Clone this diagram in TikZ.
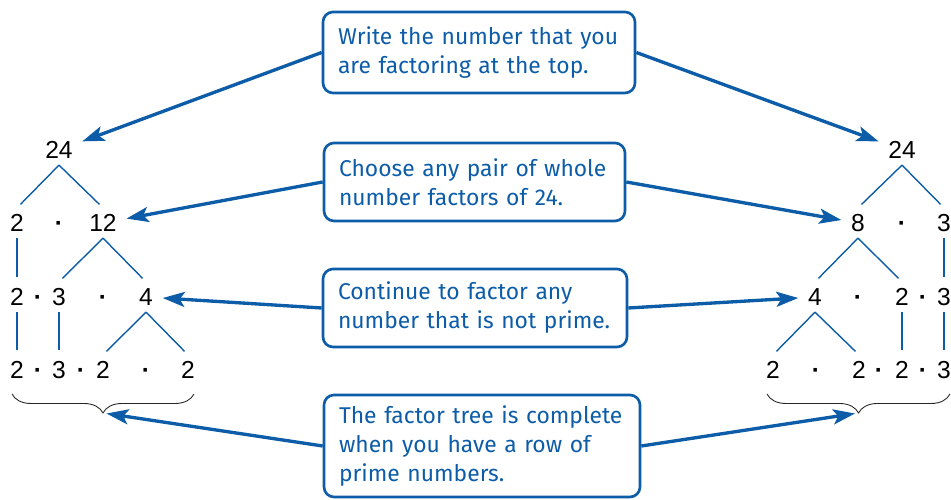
\documentclass[tikz,border=0pt]{standalone}
\usepackage{fontspec}
\newfontfamily\notefont{Fira Sans}
\newfontfamily\numfont{Liberation Sans}
\usetikzlibrary{arrows.meta,decorations.pathreplacing}
\definecolor{bookblue}{RGB}{12,92,168}
\tikzset{
    num/.style={font=\numfont\fontsize{14}{16}\selectfont, text height=10pt, text depth=0pt, inner sep=0.12cm},
    times/.style={num, font=\numfont\bfseries\fontsize{14}{16}\selectfont},
    branch/.style={bookblue, line width=0.8pt, shorten >=0.1cm},
    note/.style={draw=bookblue, line width=1.5pt, rounded corners=0.2cm, text=bookblue,
        font=\notefont\fontsize{13}{16.5}\selectfont, align=left, inner xsep=0.3cm, inner ysep=0.1cm},
    pointer/.style={bookblue, line width=1.9pt, -{Stealth[length=0.44cm,width=0.3cm,inset=0.1cm]}, shorten >=2pt},
    bracket/.style={decorate, decoration={brace, mirror, amplitude=0.38cm}, line width=0.5pt, black!85}
}
\begin{document}
\begin{tikzpicture}
    \useasboundingbox (0,0) rectangle (19.02,10);

    % 説明の枠
    \node[note, text width=5.64cm, minimum height=1.62cm] (note1) at (9.58,8.95)
        {Write the number that you\\ are factoring at the top.};
    \node[note, text width=5.42cm, minimum height=1.56cm] (note2) at (9.49,6.36)
        {Choose any pair of whole\\ number factors of 24.};
    \node[note, text width=5.48cm, minimum height=1.56cm] (note3) at (9.50,3.84)
        {Continue to factor any\\ number that is not prime.};
    \node[note, text width=5.72cm, minimum height=2.04cm] (note4) at (9.64,1.08)
        {The factor tree is complete\\ when you have a row of\\ prime numbers.};

    % 左の木 (24 = 2 · 12)
    \node[num] (la) at (1.18,7.00) {24};
    \node[num] (lb1) at (0.34,5.54) {2};
    \node[times] (lbdot) at (1.18,5.54) {·};
    \node[num] (lb2) at (2.06,5.54) {12};
    \node[num] (lc1) at (0.34,4.06) {2};
    \node[times] (lcdot1) at (0.76,4.06) {·};
    \node[num] (lc2) at (1.18,4.06) {3};
    \node[times] (lcdot2) at (2.06,4.06) {·};
    \node[num] (lc3) at (2.92,4.06) {4};
    \node[num] (ld1) at (0.34,2.60) {2};
    \node[times] (lddot1) at (0.76,2.60) {·};
    \node[num] (ld2) at (1.18,2.60) {3};
    \node[times] (lddot2) at (1.62,2.60) {·};
    \node[num] (ld3) at (2.06,2.60) {2};
    \node[times] (lddot3) at (2.92,2.60) {·};
    \node[num] (ld4) at (3.76,2.60) {2};

    \draw[branch] (la.south) -- (lb1.north);
    \draw[branch] (la.south) -- (lb2.north);
    \draw[branch] (lb1.south) -- (lc1.north);
    \draw[branch] (lb2.south) -- (lc2.north);
    \draw[branch] (lb2.south) -- (lc3.north);
    \draw[branch] (lc1.south) -- (ld1.north);
    \draw[branch] (lc2.south) -- (ld2.north);
    \draw[branch] (lc3.south) -- (ld3.north);
    \draw[branch] (lc3.south) -- (ld4.north);

    % 右の木 (24 = 8 · 3)
    \node[num] (ra) at (18.04,7.00) {24};
    \node[num] (rb1) at (17.16,5.54) {8};
    \node[times] (rbdot) at (18.04,5.54) {·};
    \node[num] (rb2) at (18.88,5.54) {3};
    \node[num] (rc1) at (16.30,4.06) {4};
    \node[times] (rcdot1) at (17.16,4.06) {·};
    \node[num] (rc2) at (18.04,4.06) {2};
    \node[times] (rcdot2) at (18.46,4.06) {·};
    \node[num] (rc3) at (18.88,4.06) {3};
    \node[num] (rd1) at (15.46,2.60) {2};
    \node[times] (rddot1) at (16.32,2.60) {·};
    \node[num] (rd2) at (17.18,2.60) {2};
    \node[times] (rddot2) at (17.58,2.60) {·};
    \node[num] (rd3) at (18.04,2.60) {2};
    \node[times] (rddot3) at (18.46,2.60) {·};
    \node[num] (rd4) at (18.88,2.60) {3};

    \draw[branch] (ra.south) -- (rb1.north);
    \draw[branch] (ra.south) -- (rb2.north);
    \draw[branch] (rb1.south) -- (rc1.north);
    \draw[branch] (rb1.south) -- (rc2.north);
    \draw[branch] (rb2.south) -- (rc3.north);
    \draw[branch] (rc1.south) -- (rd1.north);
    \draw[branch] (rc1.south) -- (rd2.north);
    \draw[branch] (rc2.south) -- (rd3.north);
    \draw[branch] (rc3.south) -- (rd4.north);

    % 括弧
    \draw[bracket] (0.24,2.12) -- (3.88,2.12);
    \draw[bracket] (15.34,2.12) -- (19.00,2.12);
    \coordinate (lbrace) at (2.06,1.74);
    \coordinate (rbrace) at (17.17,1.74);

    % 矢印
    \draw[pointer] (note1.west) -- (la);
    \draw[pointer] (note1.east) -- (ra);
    \draw[pointer] (note2.west) -- (lb2);
    \draw[pointer] (note2.east) -- (rb1);
    \draw[pointer] (note3.west) -- (lc3);
    \draw[pointer] (note3.east) -- (rc1);
    \draw[pointer] (note4.west) -- (lbrace);
    \draw[pointer] (note4.east) -- (rbrace);
\end{tikzpicture}
\end{document}
